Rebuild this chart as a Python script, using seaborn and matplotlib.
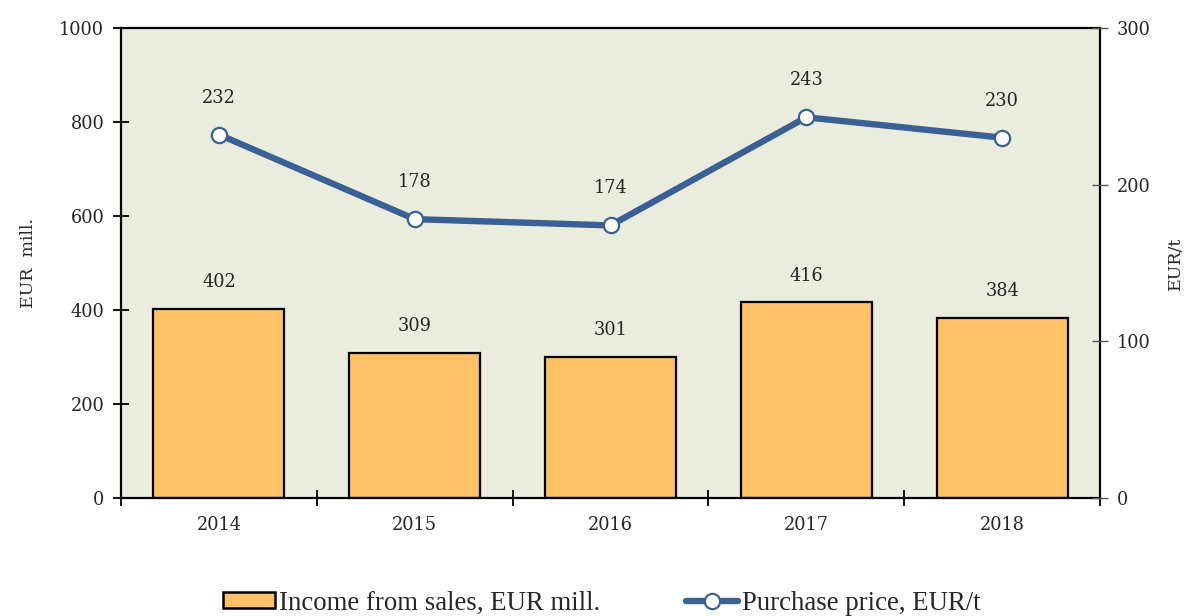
import matplotlib
matplotlib.use("Agg")
import matplotlib.pyplot as plt
from matplotlib.ticker import FixedLocator
from matplotlib.lines import Line2D
from matplotlib.patches import Patch
import seaborn as sns
import pandas as pd

years = ["2014", "2015", "2016", "2017", "2018"]
income = [402, 309, 301, 416, 384]
price = [232, 178, 174, 243, 230]

bar_color = "#FFC066"
line_color = "#3A6096"
bg_color = "#EAEDDD"

sns.set_theme(style="white")
plt.rcParams["font.family"] = ["DejaVu Serif"]

df = pd.DataFrame({"year": years, "income": income, "price": price})

fig = plt.figure(figsize=(11.86, 6.16), dpi=100)
ax = fig.add_axes([121 / 1186, 1 - 498 / 616, (1100 - 121) / 1186, (498 - 28) / 616])
ax.set_facecolor(bg_color)

sns.barplot(data=df, x="year", y="income", color=bar_color, saturation=1,
            width=0.67, edgecolor="black", linewidth=1.6, ax=ax)
ax.set_xlim(-0.5, 4.5)
ax.set_ylim(0, 1000)
ax.set_yticks(range(0, 1001, 200))
ax.set_xlabel("")
ax.set_ylabel("EUR  mill.", fontsize=12.5, labelpad=16)

for i, v in enumerate(income):
    ax.text(i, v + 57, f"{v}", ha="center", va="center", fontsize=12.8)

# category labels on minor ticks, boundary marks on major ticks
ax.xaxis.set_major_locator(FixedLocator([-0.5, 0.5, 1.5, 2.5, 3.5, 4.5]))
ax.xaxis.set_minor_locator(FixedLocator(range(len(years))))
ax.set_xticklabels([])
ax.set_xticklabels(years, minor=True)
ax.tick_params(axis="x", which="major", direction="inout", length=12, width=1.3, color="black", bottom=True)
ax.tick_params(axis="x", which="minor", length=0, pad=13, labelsize=12.8)
ax.tick_params(axis="y", direction="inout", length=12, width=1.3, color="black", left=True, labelsize=12.8, pad=6)

for s in ax.spines.values():
    s.set_color("black")
    s.set_linewidth(1.6)
    s.set_visible(True)

ax2 = ax.twinx()
sns.pointplot(data=df, x="year", y="price", color=line_color, ax=ax2,
              markers="o", linestyles="-", linewidth=4.6,
              markersize=11, markerfacecolor="white",
              markeredgecolor=line_color, markeredgewidth=1.6)
ax2.set_xlim(-0.5, 4.5)
ax2.set_ylim(0, 300)
ax2.set_yticks(range(0, 301, 100))
ax2.set_xlabel("")
ax2.set_ylabel("EUR/t", fontsize=12.5, labelpad=12)
ax2.tick_params(axis="y", direction="inout", length=12, width=1.0, color="#555555", right=True, labelsize=12.8, pad=6)
for s in ax2.spines.values():
    s.set_visible(False)

for i, v in enumerate(price):
    ax2.text(i, v + 23.6, f"{v}", ha="center", va="center", fontsize=12.8)

handles = [
    Patch(facecolor=bar_color, edgecolor="black", linewidth=1.8),
    Line2D([], [], color=line_color, linewidth=4.6, marker="o", markersize=11,
           markerfacecolor="white", markeredgecolor=line_color, markeredgewidth=1.6),
]
labels = ["Income from sales, EUR mill.", "Purchase price, EUR/t"]
fig.legend(handles, labels, loc="center", bbox_to_anchor=(602 / 1186, 1 - 603 / 616),
           ncol=2, frameon=False, handlelength=1.95, handleheight=0.55, handletextpad=0.15,
           columnspacing=3.2, prop={"family": "Liberation Serif", "size": 19.3})

fig.savefig("out.png", dpi=100)
